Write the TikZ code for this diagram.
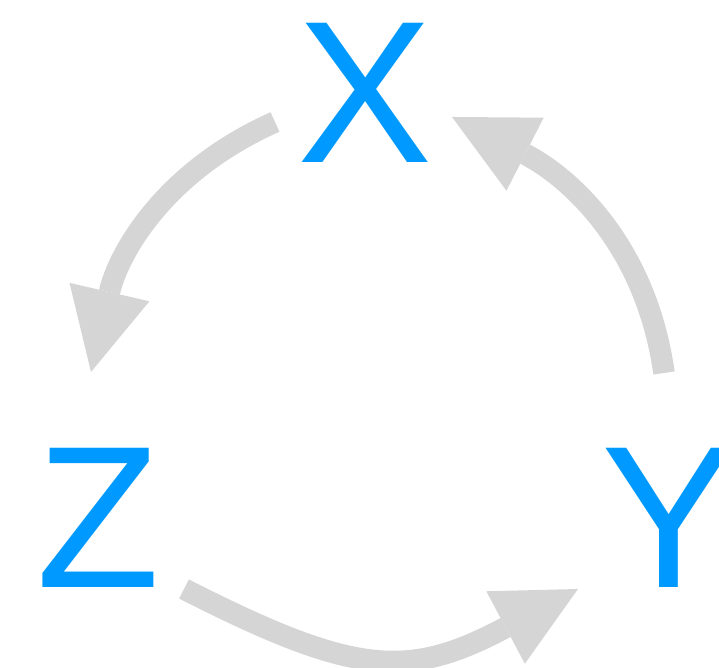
\documentclass[tikz,border=0pt]{standalone}
\usepackage{fontspec}
\setmainfont{Liberation Sans}
\usetikzlibrary{arrows.meta}

\definecolor{letterblue}{RGB}{0,153,255}
\definecolor{cyclegray}{RGB}{213,213,213}

\begin{document}
\begin{tikzpicture}[
		letter/.style={text=letterblue, inner sep=0pt, anchor=base, font=\fontsize{57.6}{60}\selectfont},
		cyc/.style={draw=cyclegray, line width=0.215cm, -{Triangle[length=0.82cm, width=0.82cm, line width=0pt, fill=cyclegray]}}
	]
			\useasboundingbox (0,0) rectangle (7.19,6.68);
			% the three variables
			\node[letter] (x) at (3.655,5.05) {X};
			\node[letter] (y) at (6.695,0.80) {Y};
			\node[letter] (z) at (0.985,0.80) {Z};
			% ends of the arrows
			\coordinate (xz-start) at (2.75,5.46);
			\coordinate (xz-end) at (0.91,2.96);
			\coordinate (zy-start) at (1.84,0.79);
			\coordinate (zy-end) at (5.78,0.79);
			\coordinate (yx-start) at (6.64,2.95);
			\coordinate (yx-end) at (4.52,5.51);
			\draw[cyc] (xz-start) to[out=204, in=77] (xz-end);
			\draw[cyc] (zy-start) to[out=-27, in=208, looseness=1.25] (zy-end);
			\draw[cyc] (yx-start) to[out=98, in=-27] (yx-end);
		\end{tikzpicture}
\end{document}
